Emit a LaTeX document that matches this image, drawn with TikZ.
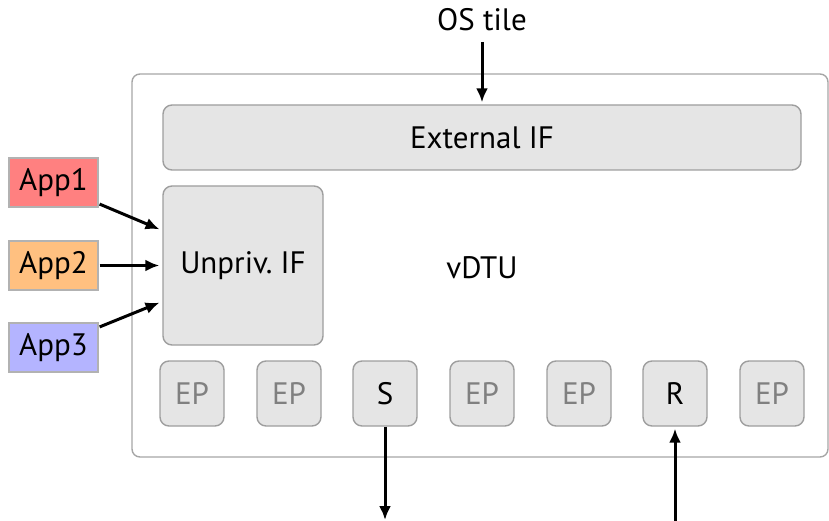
\documentclass[tikz,border=0pt]{standalone}
\usepackage{fontspec}
\setmainfont{PT Sans}
\usetikzlibrary{arrows.meta}
\definecolor{appred}{RGB}{255,128,128}
\definecolor{apporange}{RGB}{255,192,128}
\definecolor{appblue}{RGB}{180,180,255}
\begin{document}
\begin{tikzpicture}[x=1pt,y=-1pt,
  every node/.style={font=\fontsize{31}{36}\selectfont},
  box/.style={draw=black!38, line width=1.4pt, fill=black!10, rounded corners=9pt, inner sep=0pt},
  outerbox/.style={draw=black!35, line width=1.4pt, rounded corners=8pt, inner sep=0pt},
  app/.style={draw=black!30, line width=1.4pt, minimum width=89pt, minimum height=49pt, inner sep=0pt},
  ep/.style={box, minimum width=64pt, minimum height=65pt, text=black!50},
  arr/.style={line width=3pt, -{Latex[length=14pt,width=12pt]}}
]
\useasboundingbox (0,0) rectangle (829,521);

% vDTU frame and its interfaces
\node[outerbox, minimum width=696pt, minimum height=383pt] (frame) at (480,265.5) {};
\node (vdtu) at (482,268) {vDTU};
\node[box, minimum width=638pt, minimum height=65pt] (ext) at (482,137.5) {External IF};
\node[box, minimum width=160pt, minimum height=159pt] (unpriv) at (243,265.5) {Unpriv.\ IF};

% endpoints
\node[ep] (ep1) at (192,393.5) {EP};
\node[ep] (ep2) at (289,393.5) {EP};
\node[ep, text=black] (S) at (385,393.5) {S};
\node[ep] (ep4) at (482,393.5) {EP};
\node[ep] (ep5) at (579,393.5) {EP};
\node[ep, text=black] (R) at (675,393.5) {R};
\node[ep] (ep7) at (772,393.5) {EP};

% applications
\node[app, fill=appred] (app1) at (53.5,182.5) {App1};
\node[app, fill=apporange] (app2) at (53.5,265.5) {App2};
\node[app, fill=appblue] (app3) at (53.5,347.5) {App3};

% OS tile
\node (os) at (482,20) {OS tile};
\coordinate (osin) at (482,42);
\coordinate (sout) at (385,520);
\coordinate (rin) at (675,521);

% connectors
\draw[arr, shorten >=2pt] (osin) -- (ext.north);
\draw[arr, shorten <=1pt, shorten >=3pt] ([yshift=4pt]app1.south east) -- ([yshift=35pt]unpriv.west);
\draw[arr, shorten <=1pt, shorten >=3pt] (app2.east) -- (unpriv.west);
\draw[arr, shorten <=1pt, shorten >=3pt] ([yshift=-5pt]app3.north east) -- ([yshift=-36pt]unpriv.west);
\draw[arr] (S.south) -- (sout);
\draw[arr, shorten >=2pt] (rin) -- (R.south);
\end{tikzpicture}
\end{document}
